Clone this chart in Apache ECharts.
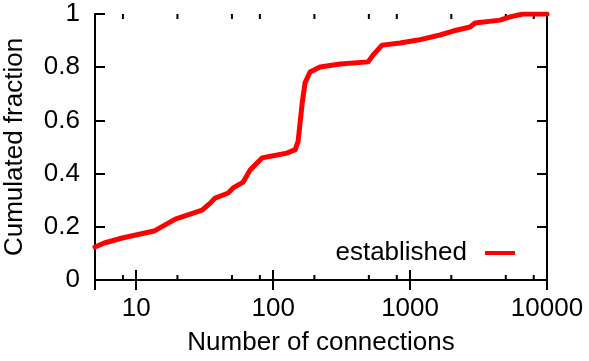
<!DOCTYPE html>
<html>
<head>
<meta charset="utf-8">
<script src="https://cdn.jsdelivr.net/npm/echarts@6/dist/echarts.min.js"></script>
<style>
  html, body { margin: 0; padding: 0; background: #fff; }
  #chart { width: 589px; height: 361px; }
</style>
</head>
<body>
<div id="chart"></div>
<script>
// CDF of connection counts
var connections = [5, 5.84, 7.9, 13.5, 19.3, 30.3, 34.7, 37.7, 47, 51, 60.4, 68, 83, 98, 126, 145, 152,
  163, 171, 186, 220, 308, 494, 537, 625, 846, 1143, 1655, 2060, 2742, 2980, 4540, 5370, 6680, 10000];
var fraction = [0.124, 0.139, 0.158, 0.184, 0.229, 0.263, 0.289, 0.308, 0.327, 0.346, 0.368, 0.414, 0.459, 0.466, 0.477, 0.49, 0.52,
  0.665, 0.741, 0.782, 0.801, 0.812, 0.820, 0.846, 0.883, 0.891, 0.902, 0.921, 0.936, 0.951, 0.966, 0.977, 0.989, 1.0, 1.0];
var minorTicks = [8, 20, 50, 80, 200, 500, 800, 2000, 5000, 8000];
var seriesName = "established";

var chart = echarts.init(document.getElementById("chart"));
var font = "'Liberation Sans', Arial, sans-serif";
var fs = 26;

var lineData = [];
for (var i = 0; i < connections.length; i++) {
  lineData.push([connections[i], fraction[i]]);
}

function xAxisCfg(pos, showLabel) {
  return {
    type: "log",
    logBase: 10,
    min: 5,
    max: 10000,
    position: pos,
    axisLine: { show: true, lineStyle: { color: "#000", width: 2 } },
    axisTick: { show: true, inside: true, length: 10, lineStyle: { color: "#000", width: 2 } },
    splitLine: { show: false },
    axisLabel: {
      show: showLabel,
      margin: 16,
      fontFamily: font,
      fontSize: fs,
      color: "#000",
      formatter: function (v) {
        var l = Math.log10(v);
        if (Math.abs(l - Math.round(l)) < 1e-6) return String(Math.round(v));
        return "";
      }
    }
  };
}

function yAxisCfg(pos, showLabel) {
  return {
    type: "value",
    min: 0,
    max: 1,
    interval: 0.2,
    position: pos,
    axisLine: { show: true, lineStyle: { color: "#000", width: 2 } },
    axisTick: { show: true, inside: true, length: 10, lineStyle: { color: "#000", width: 2 } },
    splitLine: { show: false },
    axisLabel: { show: showLabel, margin: 15, fontFamily: font, fontSize: fs, color: "#000" }
  };
}

var xBottom = xAxisCfg("bottom", true);
xBottom.name = "Number of connections";
xBottom.nameLocation = "middle";
xBottom.nameGap = 50;
xBottom.nameTextStyle = { fontFamily: font, fontSize: fs, color: "#000" };

var yLeft = yAxisCfg("left", true);
yLeft.name = "Cumulated fraction";
yLeft.nameLocation = "middle";
yLeft.nameGap = 67;
yLeft.nameTextStyle = { fontFamily: font, fontSize: fs, color: "#000" };

var option = {
  animation: false,
  backgroundColor: "#fff",
  grid: { left: 95, right: 42, top: 14, bottom: 81, outerBoundsMode: "none", containLabel: false },
  legend: {
    data: [seriesName],
    right: 74,
    top: 240,
    padding: 0,
    align: "right",
    icon: "rect",
    itemWidth: 30,
    itemHeight: 4,
    textStyle: { fontFamily: font, fontSize: fs, color: "#000", padding: [0, 13, 0, 0] }
  },
  xAxis: [xBottom, xAxisCfg("top", false)],
  yAxis: [yLeft, yAxisCfg("right", false)],
  series: [
    {
      name: seriesName,
      type: "line",
      xAxisIndex: 0,
      yAxisIndex: 0,
      showSymbol: false,
      symbol: "none",
      lineStyle: { color: "#ff0000", width: 5, cap: "round", join: "round" },
      itemStyle: { color: "#ff0000" },
      data: lineData
    },
    {
      // minor ticks at 2, 5, 8 of each decade (bottom and top)
      type: "custom",
      xAxisIndex: 0,
      yAxisIndex: 0,
      silent: true,
      data: minorTicks.map(function (v) { return [v]; }),
      renderItem: function (params, api) {
        var v = api.value(0);
        var b = api.coord([v, 0]);
        var t = api.coord([v, 1]);
        var st = { stroke: "#000", lineWidth: 2 };
        return {
          type: "group",
          children: [
            { type: "line", shape: { x1: b[0], y1: b[1], x2: b[0], y2: b[1] - 5 }, style: st },
            { type: "line", shape: { x1: t[0], y1: t[1], x2: t[0], y2: t[1] + 5 }, style: st }
          ]
        };
      }
    }
  ]
};

chart.setOption(option);
</script>
</body>
</html>
